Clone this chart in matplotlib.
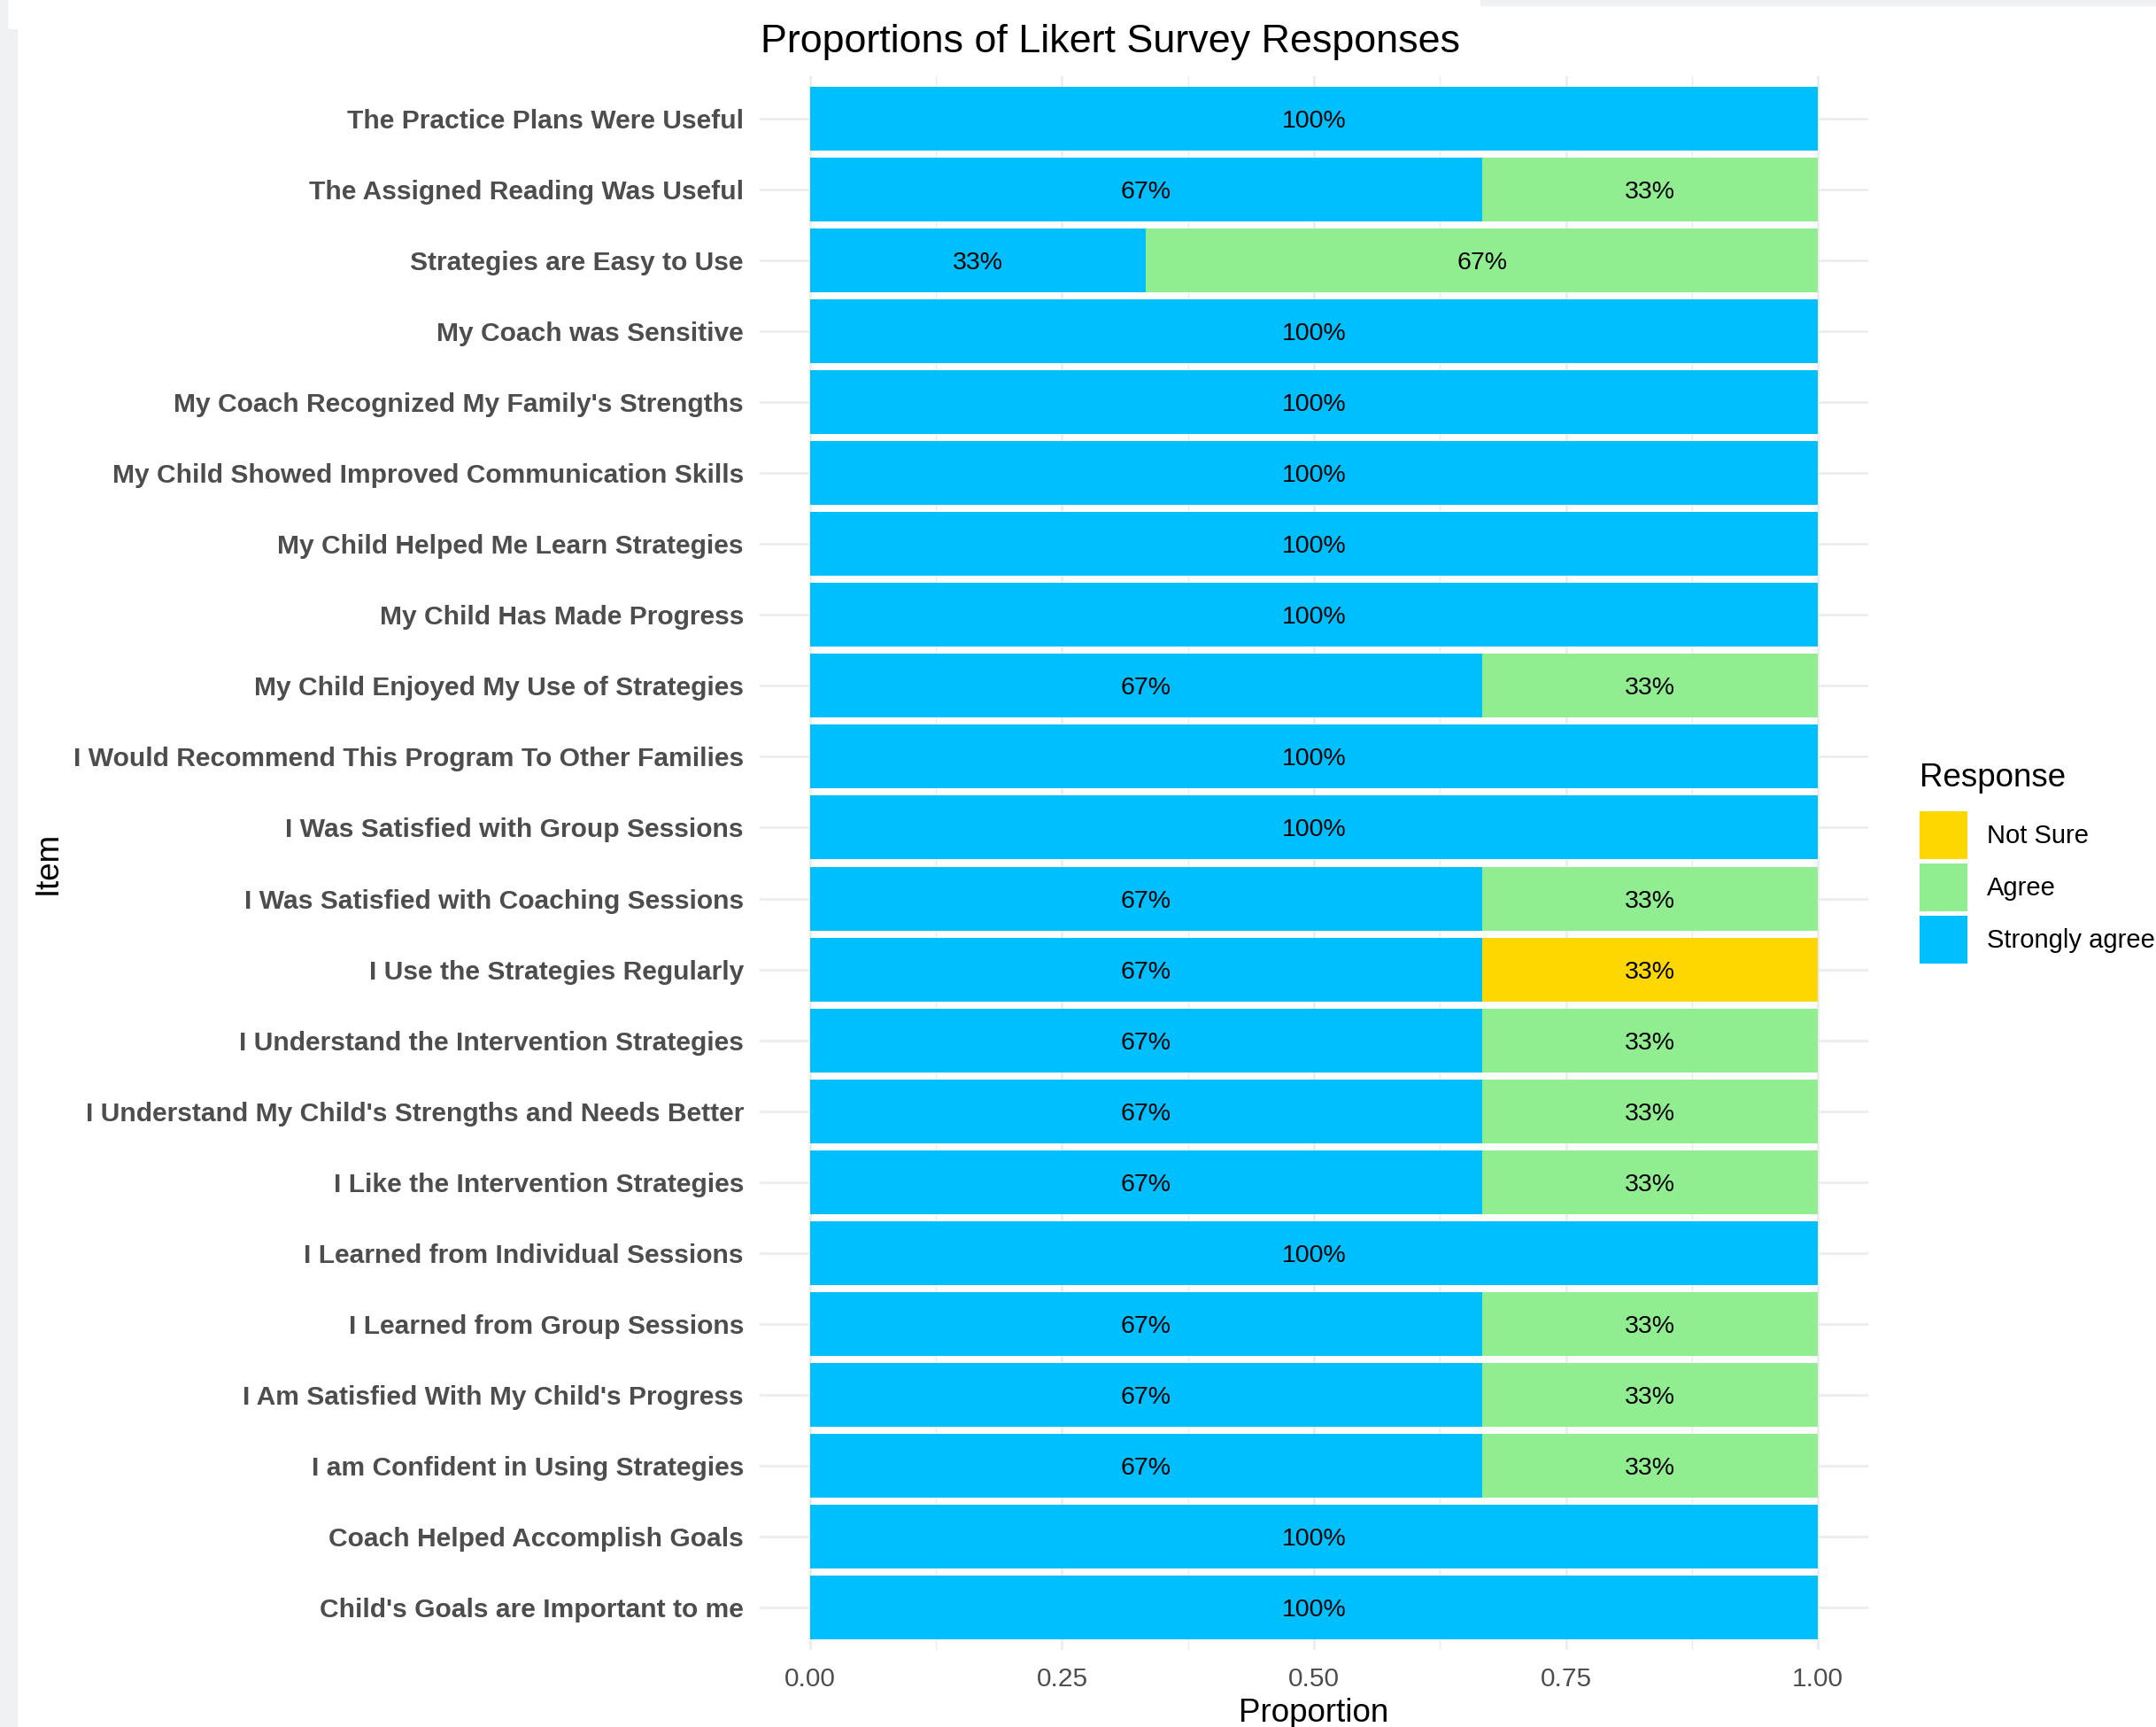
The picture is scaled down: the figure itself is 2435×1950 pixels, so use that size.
import matplotlib
matplotlib.use('Agg')
import numpy as np
import matplotlib.pyplot as plt
from matplotlib.patches import Patch, Rectangle

# 항목 (아래에서 위 순서)
items = [
    "Child's Goals are Important to me",
    "Coach Helped Accomplish Goals",
    "I am Confident in Using Strategies",
    "I Am Satisfied With My Child's Progress",
    "I Learned from Group Sessions",
    "I Learned from Individual Sessions",
    "I Like the Intervention Strategies",
    "I Understand My Child's Strengths and Needs Better",
    "I Understand the Intervention Strategies",
    "I Use the Strategies Regularly",
    "I Was Satisfied with Coaching Sessions",
    "I Was Satisfied with Group Sessions",
    "I Would Recommend This Program To Other Families",
    "My Child Enjoyed My Use of Strategies",
    "My Child Has Made Progress",
    "My Child Helped Me Learn Strategies",
    "My Child Showed Improved Communication Skills",
    "My Coach Recognized My Family's Strengths",
    "My Coach was Sensitive",
    "Strategies are Easy to Use",
    "The Assigned Reading Was Useful",
    "The Practice Plans Were Useful",
]

# 응답 수 (응답자 3명)
strongly_agree = [3, 3, 2, 2, 2, 3, 2, 2, 2, 2, 2, 3, 3, 2, 3, 3, 3, 3, 3, 1, 2, 3]
agree          = [0, 0, 1, 1, 1, 0, 1, 1, 1, 0, 1, 0, 0, 1, 0, 0, 0, 0, 0, 2, 1, 0]
not_sure       = [0, 0, 0, 0, 0, 0, 0, 0, 0, 1, 0, 0, 0, 0, 0, 0, 0, 0, 0, 0, 0, 0]

responses = ["Not Sure", "Agree", "Strongly agree"]
colors = {"Strongly agree": "#00BFFF", "Agree": "#90EE90", "Not Sure": "#FFD700"}
x_ticks = [0.0, 0.25, 0.5, 0.75, 1.0]
x_tick_labels = ["0.00", "0.25", "0.50", "0.75", "1.00"]

W, H = 2435, 1950
fig = plt.figure(figsize=(W / 100, H / 100), dpi=100)
fig.patch.set_facecolor('white')

# 가장자리 회색 띠
bg = '#f0f1f3'
fig.patches.append(Rectangle((0, 0), 19 / W, 1 - 33 / H, transform=fig.transFigure, color=bg, zorder=0))
fig.patches.append(Rectangle((0, 1 - 33 / H), 8 / W, 33 / H, transform=fig.transFigure, color=bg, zorder=0))
fig.patches.append(Rectangle((1672 / W, 1 - 6 / H), 1 - 1672 / W, 6 / H, transform=fig.transFigure, color=bg, zorder=0))

ax = fig.add_axes([858 / W, 1 - 1863 / H, (2110 - 858) / W, (1863 - 86) / H])
ax.set_facecolor('none')

sa = np.array(strongly_agree, dtype=float)
ag = np.array(agree, dtype=float)
ns = np.array(not_sure, dtype=float)
total = sa + ag + ns
y = np.arange(len(items))

segments = [("Strongly agree", sa / total), ("Agree", ag / total), ("Not Sure", ns / total)]
left = np.zeros(len(items))
for name, prop in segments:
    ax.barh(y, prop, left=left, height=0.9, color=colors[name], zorder=2)
    for yi, (l, p) in enumerate(zip(left, prop)):
        if p > 0:
            ax.text(l + p / 2, yi, f"{p * 100:.0f}%", ha='center', va='center_baseline',
                    fontsize=20.5, family='Liberation Sans', color='black', zorder=3)
    left = left + prop

ax.set_xlim(-0.05, 1.05)
ax.set_ylim(-0.6, len(items) - 0.4)
ax.set_yticks(y)
ax.set_yticklabels(items, fontsize=21.6, fontweight='bold', family='Liberation Sans', color='#4D4D4D')
ax.set_xticks(x_ticks)
ax.set_xticklabels(x_tick_labels, fontsize=21.5, family='Liberation Sans', color='#4D4D4D')
ax.set_xticks([0.125, 0.375, 0.625, 0.875], minor=True)
ax.tick_params(axis='both', which='both', length=0)
ax.tick_params(axis='y', pad=13)
ax.tick_params(axis='x', pad=14)
ax.grid(True, which='major', color='#EBEBEB', linewidth=1.8, zorder=0)
ax.grid(True, which='minor', axis='x', color='#EBEBEB', linewidth=1.0, zorder=0)
ax.set_axisbelow(True)
for s in ax.spines.values():
    s.set_visible(False)

fig.text(1254 / W, 1 - 47 / H, "Proportions of Likert Survey Responses", ha='center', va='center',
         fontsize=32.3, family='Liberation Sans', color='black')
fig.text(1484 / W, 1 - 1935 / H, "Proportion", ha='center', va='center',
         fontsize=26.5, family='Liberation Sans', color='black')
fig.text(54 / W, 1 - 974 / H, "Item", ha='center', va='center', rotation=90,
         fontsize=26.5, family='Liberation Sans', color='black')

# 범례
fig.text(2168 / W, 1 - 878 / H, "Response", ha='left', va='center',
         fontsize=26.5, family='Liberation Sans', color='black')
handles = [Patch(facecolor=colors[r], edgecolor='none', label=r) for r in responses]
leg = fig.legend(handles=handles, loc='upper left', bbox_to_anchor=(2168 / W, 1 - 916 / H),
                 frameon=False, prop={'family': 'Liberation Sans', 'size': 21},
                 handlelength=1.86, handleheight=2.48, labelspacing=0.17,
                 handletextpad=0.76, borderpad=0, borderaxespad=0)

fig.savefig('out.png', dpi=100)
